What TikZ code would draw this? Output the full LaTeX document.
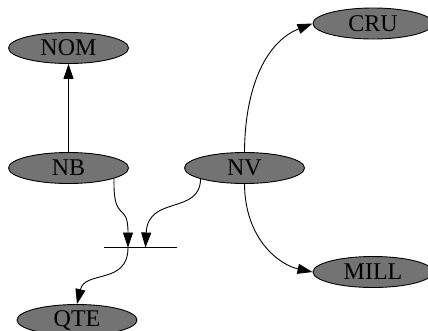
\documentclass[tikz,border=0pt]{standalone}
\usepackage{fontspec}
\setmainfont{Liberation Serif}
\usetikzlibrary{shapes.geometric, arrows.meta}
\definecolor{nodegray}{gray}{0.45}

\begin{document}
\begin{tikzpicture}[x=1pt, y=-1pt, >={Triangle[length=15pt, width=10pt]},
  var/.style={ellipse, draw, line width=0.9pt, fill=nodegray, inner sep=0pt,
    minimum width=120pt, minimum height=31pt, font=\fontsize{24}{29}\selectfont},
  edge/.style={->, line width=0.9pt}]
\useasboundingbox (0,0) rectangle (428,330);
\node[var] (nom) at (68.5,48) {NOM};
\node[var] (nb) at (68.5,168) {NB};
\node[var] (nv) at (244.5,168) {NV};
\node[var] (cru) at (373,23.5) {CRU};
\node[var] (mill) at (373,272) {MILL};
\node[var] (qte) at (77,320) {QTE};
\coordinate (jl) at (104,247.5);
\coordinate (jr) at (177,247.5);
\coordinate (j1) at (128,247.5);
\coordinate (j2) at (145.5,247.5);
\draw [line width=0.9pt] (jl) -- (jr);
\draw [edge] (nb) -- (nom);
\draw [edge] (nb.-13) .. controls (113,225) and (128,200) .. (j1);
\draw [edge] (nv.-166) .. controls (200,215) and (148,195) .. (j2);
\draw [edge] (j1) .. controls (128,285) and (85,270) .. (qte.north);
\draw [edge] (nv.north) .. controls (245,80) and (270,40) .. (cru.west);
\draw [edge] (nv.south) .. controls (245,240) and (280,265) .. (mill.west);
\end{tikzpicture}
\end{document}
